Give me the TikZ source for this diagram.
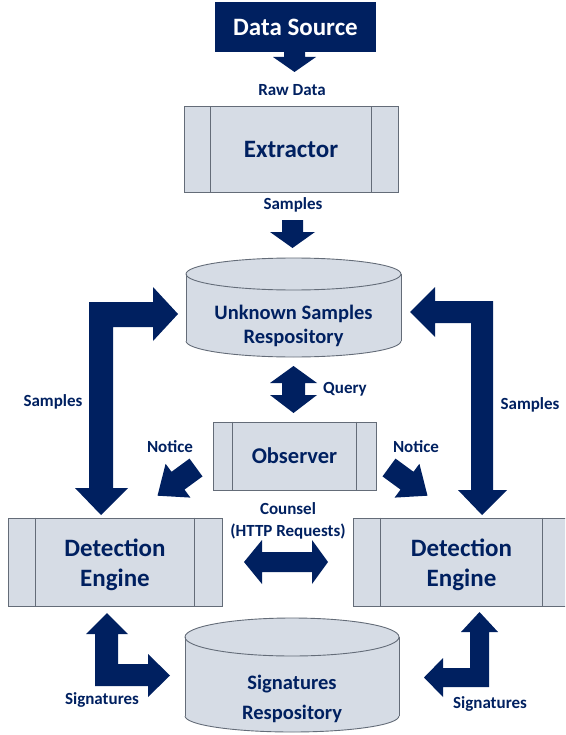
\documentclass[tikz,border=0pt]{standalone}
\usepackage{fontspec}
\setmainfont{Carlito}
\definecolor{navy}{RGB}{0,32,96}
\definecolor{boxfill}{RGB}{214,220,229}
\definecolor{boxline}{RGB}{100,108,120}
\newcommand\myfs[2]{\fontsize{#1}{#2}\selectfont\bfseries}
\begin{document}
\begin{tikzpicture}[x=1pt,y=-1pt,
  lbl/.style={font=\myfs{17}{22}, text=navy, inner sep=0pt, align=center},
  proc/.style={draw=boxline, fill=boxfill, line width=0.9pt, inner sep=0pt, text=navy, align=center},
  bigtext/.style={text=navy, align=center, inner sep=0pt},
  inner/.style={draw=boxline, line width=0.9pt},
  cylline/.style={draw=boxline, line width=0.9pt}]
\useasboundingbox (0,0) rectangle (565,735);
\clip (0,0) rectangle (565,735);

% Data source
\node[fill=navy, minimum width=161pt, minimum height=50pt, inner sep=0pt, text=white, font=\myfs{25}{30}] (src) at (295.5,27) {Data Source};
\fill[navy] (284,50)--(305,50)--(305,57)--(316,57)--(294.5,72)--(273,57)--(284,57)--cycle;
\node[lbl] (raw) at (292,90) {Raw Data};

% Extractor
\node[proc, minimum width=214pt, minimum height=86pt, font=\myfs{25}{30}] (ext) at (291,149.5) {Extractor};
\draw[inner] ([xshift=27pt]ext.north west) -- ([xshift=27pt]ext.south west);
\draw[inner] ([xshift=-27pt]ext.north east) -- ([xshift=-27pt]ext.south east);
\node[lbl] (smp1) at (293,205) {Samples};
\fill[navy] (282,220)--(303,220)--(303,232)--(315,232)--(292.5,248)--(270,232)--(282,232)--cycle;

% Unknown samples repository (cylinder)
\fill[boxfill] (186,274) rectangle (401,341);
\fill[boxfill] (293.5,341) ellipse[x radius=107.5pt, y radius=16pt];
\fill[boxfill] (293.5,274) ellipse[x radius=107.5pt, y radius=16pt];
\draw[cylline] (293.5,274) ellipse[x radius=107.5pt, y radius=16pt];
\draw[cylline] (186,274) -- (186,341);
\draw[cylline] (401,274) -- (401,341);
\begin{scope}
\clip (180,341) rectangle (410,362);
\draw[cylline] (293.5,341) ellipse[x radius=107.5pt, y radius=16pt];
\end{scope}
\node[bigtext, font=\myfs{20.5}{24}] (unk) at (293.5,325.5) {Unknown Samples\\Respository};

% Samples L-arrows
\fill[navy] (89,302)--(153,302)--(153,287)--(178,314)--(153,341)--(153,327)--(113,327)--(113,488)--(128,488)--(101,515)--(75,488)--(89,488)--cycle;
\node[lbl] (smpL) at (53,402) {Samples};
\fill[navy] (493,301)--(493,490)--(507,490)--(482,515)--(458,490)--(471,490)--(471,323)--(435,323)--(435,337)--(410,312)--(435,287)--(435,301)--cycle;
\node[lbl] (smpR) at (530,405) {Samples};

% Query
\fill[navy] (293.5,366)--(317,383)--(305,383)--(305,395)--(317,395)--(293.5,413)--(270,395)--(282,395)--(282,383)--(270,383)--cycle;
\node[lbl] (qry) at (345,389) {Query};

% Observer
\node[proc, minimum width=163pt, minimum height=68pt, font=\myfs{22.5}{27}] (obs) at (294.5,456) {Observer};
\draw[inner] ([xshift=20pt]obs.north west) -- ([xshift=20pt]obs.south west);
\draw[inner] ([xshift=-20pt]obs.north east) -- ([xshift=-20pt]obs.south east);

% Notice arrows
\node[lbl] (ntcL) at (170,447) {Notice};
\fill[navy] (189.5,458.6)--(202.5,476.4)--(184.5,489.6)--(190.4,497.6)--(157.5,495.7)--(165.6,463.8)--(171.5,471.8)--cycle;
\node[lbl] (ntcR) at (416,447) {Notice};
\fill[navy] (395.5,458.6)--(382.5,476.4)--(400.5,489.6)--(394.6,497.6)--(427.5,495.7)--(419.4,463.8)--(413.5,471.8)--cycle;

% Counsel
\node[lbl] (cns) at (288,520.5) {Counsel\\(HTTP Requests)};
\fill[navy] (244,562)--(262,540)--(262,552)--(312,552)--(312,540)--(328,562)--(312,584)--(312,572)--(262,572)--(262,584)--cycle;

% Detection engines
\node[proc, minimum width=214pt, minimum height=88pt] (detL) at (115,562) {};
\draw[inner] ([xshift=28pt]detL.north west) -- ([xshift=28pt]detL.south west);
\draw[inner] ([xshift=-28pt]detL.north east) -- ([xshift=-28pt]detL.south east);
\node[bigtext, font=\myfs{25}{30}] (detLt) at (115,565) {Detection\\Engine};
\node[proc, minimum width=217pt, minimum height=88pt] (detR) at (461.5,562) {};
\draw[inner] ([xshift=28pt]detR.north west) -- ([xshift=28pt]detR.south west);
\draw[inner] ([xshift=-28pt]detR.north east) -- ([xshift=-28pt]detR.south east);
\node[bigtext, font=\myfs{25}{30}] (detRt) at (461.5,565) {Detection\\Engine};

% Signatures repository (cylinder)
\fill[boxfill] (185,637) rectangle (399,716);
\fill[boxfill] (292,716) ellipse[x radius=107pt, y radius=16pt];
\fill[boxfill] (292,637) ellipse[x radius=107pt, y radius=19pt];
\draw[cylline] (292,637) ellipse[x radius=107pt, y radius=19pt];
\draw[cylline] (185,637) -- (185,716);
\draw[cylline] (399,637) -- (399,716);
\begin{scope}
\clip (180,716) rectangle (410,740);
\draw[cylline] (292,716) ellipse[x radius=107pt, y radius=16pt];
\end{scope}
\node[bigtext, font=\myfs{20.5}{30}] (sig) at (292,699) {Signatures\\Respository};

% Signatures L-arrows
\fill[navy] (95,686)--(95,634)--(86,634)--(107,613)--(128,634)--(118,634)--(118,664)--(148,664)--(148,654)--(170,675.5)--(148,697)--(148,686)--cycle;
\node[lbl] (sigL) at (102,700) {Signatures};
\fill[navy] (489,687)--(443,687)--(443,697)--(424,677.5)--(443,658)--(443,668)--(470,668)--(470,632)--(461,632)--(479.5,612)--(498,632)--(489,632)--cycle;
\node[lbl] (sigR) at (490,704) {Signatures};
\end{tikzpicture}
\end{document}
